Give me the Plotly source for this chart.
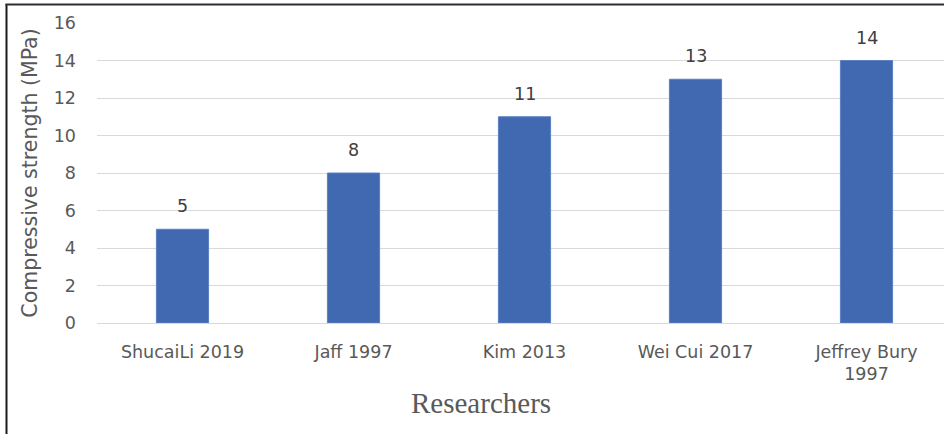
import plotly.graph_objects as go

# Compressive strength reported by each study
researchers = ["ShucaiLi 2019", "Jaff 1997", "Kim 2013", "Wei Cui 2017", "Jeffrey Bury<br>1997"]
strength_mpa = [5, 8, 11, 13, 14]
y_ticks = [0, 2, 4, 6, 8, 10, 12, 14, 16]

W, H = 944, 434
L, R, T, B = 97, 0, 23, 111
plot_w = W - L - R
plot_h = H - T - B
px_per_cat = 171.0

def px_to_paper_x(px):
    return (px - L) / plot_w

def px_to_paper_y(py):
    return (H - B - py) / plot_h

sans = "'DejaVu Sans', Verdana, sans-serif"
label_font = dict(family=sans, size=17.5, color="#595959")

fig = go.Figure(
    go.Bar(
        x=list(range(len(researchers))),
        y=strength_mpa,
        width=0.305,
        marker=dict(color="#4169B1", line=dict(color="#5B80C2", width=1)),
        hoverinfo="x+y",
    )
)

# value labels above each bar
value_labels = [
    dict(
        x=i, y=v, xref="x", yref="y",
        text=str(v), showarrow=False,
        yanchor="middle", yshift=23,
        font=dict(family=sans, size=17.5, color="#404040"),
    )
    for i, v in enumerate(strength_mpa)
]

fig.update_layout(
    width=W,
    height=H,
    margin=dict(l=L, r=R, t=T, b=B, pad=0),
    paper_bgcolor="white",
    plot_bgcolor="white",
    showlegend=False,
    xaxis=dict(
        range=[-0.5, -0.5 + plot_w / px_per_cat],
        tickmode="array",
        tickvals=list(range(len(researchers))),
        ticktext=researchers,
        tickfont=label_font,
        showgrid=False,
        showline=False,
        zeroline=False,
        ticks="",
        ticklabelstandoff=16,
    ),
    yaxis=dict(
        range=[0, 16],
        tickmode="array",
        tickvals=y_ticks,
        tickfont=label_font,
        showgrid=True,
        gridcolor="#D9D9D9",
        gridwidth=1,
        zeroline=True,
        zerolinecolor="#D9D9D9",
        zerolinewidth=1,
        showline=False,
        ticks="",
        ticklabelstandoff=20,
        title=dict(
            text="Compressive strength (MPa)",
            font=dict(family=sans, size=20.5, color="#595959"),
            standoff=10,
        ),
    ),
    annotations=value_labels + [
        dict(
            text="Researchers",
            xref="paper", yref="paper",
            x=px_to_paper_x(481), y=px_to_paper_y(403),
            xanchor="center", yanchor="middle",
            showarrow=False,
            font=dict(family="'Liberation Serif', 'Times New Roman', serif", size=29, color="#595959"),
        )
    ],
    shapes=[
        # outer frame: left and top edges
        dict(type="line", xref="paper", yref="paper",
             x0=px_to_paper_x(6.5), x1=px_to_paper_x(6.5),
             y0=px_to_paper_y(4), y1=px_to_paper_y(H),
             line=dict(color="#1A1A1A", width=2)),
        dict(type="line", xref="paper", yref="paper",
             x0=px_to_paper_x(5.5), x1=px_to_paper_x(W),
             y0=px_to_paper_y(4.5), y1=px_to_paper_y(4.5),
             line=dict(color="#2A2F38", width=2)),
    ],
)

fig.write_html("out.html")
